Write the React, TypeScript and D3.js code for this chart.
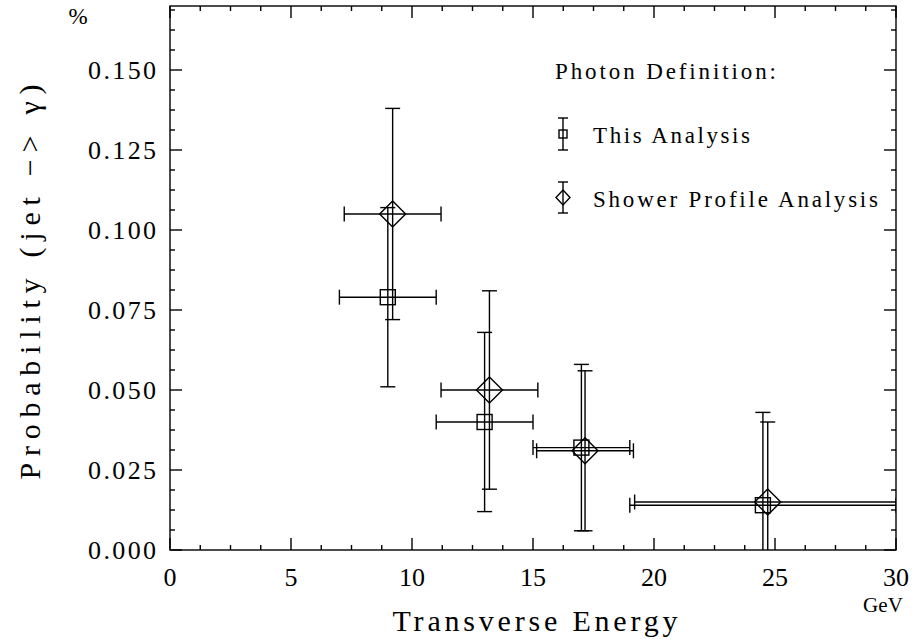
import React from "react";
import * as d3 from "d3";

// This Analysis (squares)
const thisX = [9.0, 13.0, 17.0, 24.5];
const thisY = [0.079, 0.040, 0.032, 0.014];
const thisYErr = [0.028, 0.028, 0.026, 0.029];
const thisXErr = [2.0, 2.0, 2.0, 5.5];

// Shower Profile Analysis (diamonds)
const showerX = [9.2, 13.2, 17.15, 24.7];
const showerY = [0.105, 0.050, 0.031, 0.015];
const showerYErr = [0.033, 0.031, 0.025, 0.025];
const showerXErr = [2.0, 2.0, 2.0, 5.5];

const xTicks = [0, 5, 10, 15, 20, 25, 30];
const yTicks = [0, 0.025, 0.05, 0.075, 0.1, 0.125, 0.15];

const W = 916, H = 639;
const L = 170, R = 896, T = 6, B = 550;
const FONT = "Liberation Serif, Times New Roman, serif";

export default function App() {
  const x = d3.scaleLinear().domain([0, 30]).range([L, R]);
  const y = d3.scaleLinear().domain([0, 0.17]).range([B, T]);

  const xMinor = d3.range(0, 30.001, 1.25).filter((v) => Math.abs(v / 5 - Math.round(v / 5)) > 1e-6);
  const yMinor = d3.range(0, 0.1701, 0.00625).filter((v) => Math.abs(v / 0.025 - Math.round(v / 0.025)) > 1e-6);

  const sw = 1.4;
  const cap = 7.5;

  const renderSeries = (xs: number[], ys: number[], ye: number[], xe: number[], kind: string) =>
    xs.map((xv, i) => {
      const cx = x(xv), cy = y(ys[i]);
      const y0 = y(ys[i] - ye[i]), y1 = y(ys[i] + ye[i]);
      const x0 = x(xv - xe[i]), x1 = x(xv + xe[i]);
      const lowClipped = ys[i] - ye[i] < 0;
      const hiClipped = xv + xe[i] > 30;
      const s = 7.5;
      const dd = 13;
      return (
        <g key={kind + i}>
          <line x1={cx} x2={cx} y1={y0} y2={y1} />
          <line x1={cx - cap} x2={cx + cap} y1={y1} y2={y1} />
          {!lowClipped && <line x1={cx - cap} x2={cx + cap} y1={y0} y2={y0} />}
          <line x1={x0} x2={x1} y1={cy} y2={cy} />
          <line x1={x0} x2={x0} y1={cy - cap} y2={cy + cap} />
          {!hiClipped && <line x1={x1} x2={x1} y1={cy - cap} y2={cy + cap} />}
          {kind === "sq" ? (
            <rect x={cx - s} y={cy - s} width={2 * s} height={2 * s} fill="none" />
          ) : (
            <path d={`M${cx},${cy - dd}L${cx + dd},${cy}L${cx},${cy + dd}L${cx - dd},${cy}Z`} fill="none" />
          )}
        </g>
      );
    });

  const tf = { fontFamily: FONT };

  return (
    <svg width={W} height={H} style={{ position: "absolute", left: 0, top: 0, background: "#fff" }}>
      <defs>
        <clipPath id="plot">
          <rect x={L} y={T} width={R - L} height={B - T} />
        </clipPath>
      </defs>
      <rect x={0} y={0} width={W} height={H} fill="#fff" />
      <g stroke="#000" strokeWidth={sw} fill="none">
        <rect x={L} y={T} width={R - L} height={B - T} />
        {xTicks.map((v) => (
          <g key={"xt" + v}>
            <line x1={x(v)} x2={x(v)} y1={B} y2={B - 12} />
            <line x1={x(v)} x2={x(v)} y1={T} y2={T + 12} />
          </g>
        ))}
        {xMinor.map((v) => (
          <g key={"xm" + v}>
            <line x1={x(v)} x2={x(v)} y1={B} y2={B - 5} />
            <line x1={x(v)} x2={x(v)} y1={T} y2={T + 5} />
          </g>
        ))}
        {yTicks.map((v) => (
          <g key={"yt" + v}>
            <line x1={L} x2={L + 12} y1={y(v)} y2={y(v)} />
            <line x1={R} x2={R - 12} y1={y(v)} y2={y(v)} />
          </g>
        ))}
        {yMinor.map((v) => (
          <g key={"ym" + v}>
            <line x1={L} x2={L + 5} y1={y(v)} y2={y(v)} />
            <line x1={R} x2={R - 5} y1={y(v)} y2={y(v)} />
          </g>
        ))}
      </g>
      <g stroke="#000" strokeWidth={sw} fill="none" clipPath="url(#plot)">
        {renderSeries(thisX, thisY, thisYErr, thisXErr, "sq")}
        {renderSeries(showerX, showerY, showerYErr, showerXErr, "di")}
      </g>
      <g style={tf} fill="#000">
        {yTicks.map((v) => (
          <text key={"yl" + v} x={156} y={y(v)} dy="0.35em" textAnchor="end" fontSize={26} style={tf}
            textLength={68} lengthAdjust="spacing">
            {d3.format(".3f")(v)}
          </text>
        ))}
        {xTicks.map((v) => (
          <text key={"xl" + v} x={x(v)} y={586} textAnchor="middle" fontSize={26} style={tf}>
            {v}
          </text>
        ))}
        <text x={78} y={24} textAnchor="middle" fontSize={23} style={tf}>%</text>
        <text x={883} y={612} textAnchor="middle" fontSize={21} style={tf} textLength={40} lengthAdjust="spacing">GeV</text>
        <text x={535} y={631} textAnchor="middle" fontSize={30} style={tf} textLength={285} lengthAdjust="spacing">
          Transverse Energy
        </text>
        <text transform={`translate(40,${282}) rotate(-90)`} textAnchor="middle" fontSize={30} style={tf}
          textLength={395} lengthAdjust="spacing">
          Probability (jet −&gt; γ)
        </text>
        <text x={555} y={79} fontSize={23} style={tf} textLength={221} lengthAdjust="spacing">Photon Definition:</text>
        <text x={593} y={143} fontSize={23} style={tf} textLength={157} lengthAdjust="spacing">This Analysis</text>
        <text x={593} y={207} fontSize={23} style={tf} textLength={285} lengthAdjust="spacing">Shower Profile Analysis</text>
      </g>
      <g stroke="#000" strokeWidth={sw} fill="none">
        <line x1={563} x2={563} y1={118} y2={150} />
        <line x1={558} x2={568} y1={118} y2={118} />
        <line x1={558} x2={568} y1={150} y2={150} />
        <rect x={559} y={130} width={8} height={8} />
        <line x1={563} x2={563} y1={182} y2={213} />
        <line x1={558} x2={568} y1={182} y2={182} />
        <line x1={558} x2={568} y1={213} y2={213} />
        <path d="M563,190L570,197.5L563,205L556,197.5Z" />
      </g>
    </svg>
  );
}
